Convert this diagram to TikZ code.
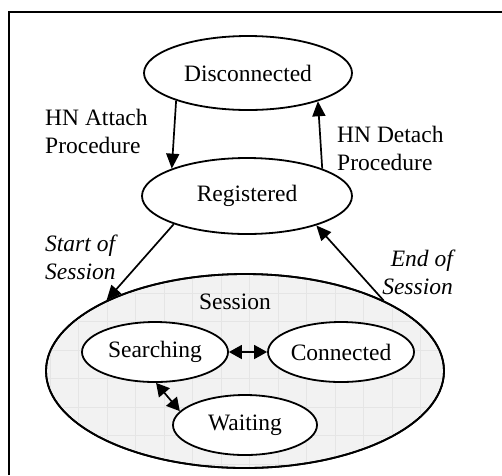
\documentclass[tikz,border=0pt]{standalone}
\usepackage{fontspec}
\setmainfont{Liberation Serif}
\usetikzlibrary{shapes.geometric,arrows.meta}
\begin{document}
\begin{tikzpicture}[x=1pt,y=1pt,
  txt/.style={font=\fontsize{23.5}{28}\selectfont, inner sep=0pt},
  st/.style={ellipse, draw, line width=1.8pt, fill=white, inner sep=0pt, font=\fontsize{23.5}{28}\selectfont},
  arr/.style={line width=1.7pt, -{Triangle[length=15pt,width=13pt]}},
  darr/.style={line width=1.7pt, {Triangle[length=13pt,width=14pt]}-{Triangle[length=13pt,width=14pt]}}]
\useasboundingbox (0,0) rectangle (502,-475);
\fill[white] (0,0) rectangle (502,-475);
% frame
\draw[line width=1.8pt] (9,-475) -- (9,-12) -- (502,-12);
% session
\node[ellipse, draw, line width=1.8pt, fill=gray!10, minimum width=398pt, minimum height=194pt, inner sep=0pt] (ses) at (245,-371) {};
\begin{scope}
\clip (245,-371) ellipse [x radius=198pt, y radius=96pt];
\draw[gray!20, line width=0.5pt, shift={(-7,-8)}, step=28.5pt] (28,-476) grid (480,-256);
\end{scope}
\draw[line width=1.8pt] (245,-371) ellipse [x radius=199pt, y radius=97pt];
\node[txt] (sesl) at (235,-302) {Session};
% states
\node[st, minimum width=208pt, minimum height=74pt] (dis) at (248,-73) {Disconnected};
\node[st, minimum width=210pt, minimum height=76pt] (reg) at (247,-196) {Registered};
\node[st, minimum width=146pt, minimum height=60pt] (srch) at (155,-352) {Searching};
\node[st, minimum width=146pt, minimum height=60pt] (conn) at (341,-352) {Connected};
\node[st, minimum width=144pt, minimum height=60pt] (wait) at (245,-425) {Waiting};
% labels
\node[txt, align=left, anchor=west] (la) at (45,-131) {HN Attach\\Procedure};
\node[txt, align=left, anchor=west] (ld) at (337,-148) {HN Detach\\Procedure};
\node[txt, align=left, anchor=west, font=\fontsize{23.5}{28}\selectfont\itshape] (ls) at (45,-257) {Start of\\Session};
\node[txt, align=right, anchor=east, font=\fontsize{23.5}{28}\selectfont\itshape] (le) at (453,-272) {End of\\Session};
% connectors
\draw[arr] (dis.201.9) -- (reg.160.9);
\draw[arr] (reg.20) -- (dis.338.3);
\draw[arr] (reg.201.9) -- (ses.153.8);
\draw[arr] (ses.27.2) -- (reg.337.7);
\draw[darr] (srch.east) -- (conn.west);
\draw[darr] (srch.272) -- (wait.168.7);
\end{tikzpicture}
\end{document}
